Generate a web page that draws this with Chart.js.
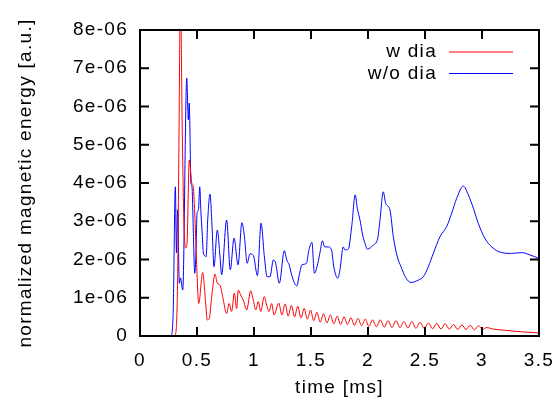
<!DOCTYPE html>
<html lang="en">
<head>
<meta charset="utf-8">
<title>normalized magnetic energy</title>
<script src="https://cdn.jsdelivr.net/npm/chart.js@4/dist/chart.umd.min.js"></script>
<style>
    html, body { margin: 0; padding: 0; background: #fff; }
    #contenedor { width: 560px; height: 401px; }
</style>
</head>
<body>
<div id="contenedor"><canvas id="grafico" width="560" height="401"></canvas></div>
<script>
// valores en unidades de 1e-06
const tiempoConDia = [
    0, 0.3, 0.315, 0.33, 0.34, 0.355, 0.37, 0.385, 0.4, 0.412,
    0.432, 0.454, 0.467, 0.482, 0.497, 0.515, 0.55, 0.575, 0.59, 0.607,
    0.629, 0.658, 0.678, 0.702, 0.725, 0.76, 0.782, 0.804, 0.827, 0.848,
    0.862, 0.883, 0.906, 0.936, 0.971, 0.994, 1.015, 1.038, 1.059, 1.09,
    1.111, 1.132, 1.155, 1.175,
    1.217, 1.245, 1.273, 1.3, 1.328, 1.356, 1.384, 1.412, 1.44, 1.468,
    1.496, 1.524, 1.552, 1.58, 1.61, 1.64, 1.67, 1.7, 1.73, 1.76,
    1.79, 1.82, 1.85, 1.88, 1.912, 1.944, 1.976, 2.008, 2.04, 2.074,
    2.108, 2.142, 2.176, 2.21, 2.245, 2.28, 2.315, 2.35, 2.385, 2.42,
    2.457, 2.494, 2.53, 2.567, 2.604, 2.64, 2.677, 2.714, 2.75, 2.787,
    2.824, 2.86, 2.897, 2.934, 2.97, 3.005, 3.04, 3.1, 3.2, 3.3,
    3.4, 3.5
];
const energiaConDia = [
    0, 0, 0.1, 1.5, 4.5, 9, 5.5, 3.0, 2.3, 2.4,
    4.6, 4.0, 3.9, 3.08, 1.86, 0.85, 1.66, 0.9, 0.42, 0.45,
    1.03, 1.62, 1.38, 1.33, 1.03, 0.59, 0.85, 0.64, 1.12, 0.72,
    1.2, 1.07, 0.94, 0.68, 1.18, 0.94, 0.68, 0.9, 0.64, 1.03,
    0.81, 0.64, 0.85, 0.55,
    0.86, 0.55, 0.84, 0.52, 0.8, 0.5, 0.78, 0.47, 0.72, 0.44,
    0.68, 0.4, 0.62, 0.36, 0.58, 0.34, 0.55, 0.32, 0.52, 0.3,
    0.5, 0.3, 0.48, 0.28, 0.46, 0.27, 0.44, 0.25, 0.42, 0.24,
    0.42, 0.23, 0.4, 0.22, 0.4, 0.22, 0.38, 0.21, 0.38, 0.2,
    0.36, 0.2, 0.34, 0.19, 0.33, 0.18, 0.32, 0.18, 0.3, 0.17,
    0.29, 0.17, 0.28, 0.16, 0.27, 0.17, 0.22, 0.18, 0.15, 0.12,
    0.1, 0.08
];

const tiempoSinDia = [
    0, 0.27, 0.29, 0.31, 0.32, 0.33, 0.345, 0.355, 0.375, 0.41,
    0.424, 0.432, 0.447, 0.456, 0.469, 0.48, 0.491, 0.5, 0.513, 0.524,
    0.535, 0.544, 0.556, 0.57, 0.58, 0.594, 0.614, 0.632, 0.649, 0.678,
    0.702, 0.716, 0.76, 0.792, 0.825, 0.86, 0.894, 0.916, 0.94, 0.965,
    0.995, 1.03, 1.062, 1.09, 1.115, 1.14, 1.17, 1.19, 1.222, 1.266,
    1.287, 1.31, 1.33, 1.375, 1.4, 1.42, 1.46, 1.482, 1.508, 1.53,
    1.56, 1.58, 1.6, 1.62, 1.65, 1.68, 1.7, 1.735, 1.754, 1.783,
    1.798, 1.827, 1.857, 1.888, 1.906, 1.93, 1.953, 1.974, 1.994, 2.047,
    2.085, 2.105, 2.134, 2.155, 2.193, 2.222, 2.257, 2.29, 2.33, 2.377,
    2.44, 2.485, 2.529, 2.573, 2.632, 2.69, 2.734, 2.778, 2.836, 2.88,
    2.924, 2.968, 3.026, 3.085, 3.173, 3.26, 3.348, 3.42, 3.5
];
const energiaSinDia = [
    0, 0, 0.5, 3.9, 2.17, 3.3, 1.38, 1.52, 1.2, 6.74,
    5.65, 6.09, 4.0, 3.9, 2.6, 1.64, 2.17, 3.2, 3.3, 3.9,
    3.2, 2.77, 2.17, 2.1, 2.07, 3.03, 3.71, 2.86, 1.81, 2.77,
    2.07, 1.6, 3.03, 1.73, 2.56, 1.86, 2.96, 2.6, 1.9, 2.15,
    2.1, 1.58, 2.95, 2.1, 1.55, 1.55, 1.99, 1.9, 1.38, 2.23,
    1.99, 1.85, 1.6, 1.31, 1.64, 1.86, 1.9, 2.25, 2.45, 1.64,
    1.9, 2.2, 2.49, 2.33, 2.33, 2.25, 1.81, 1.51, 1.73, 2.33,
    2.25, 2.27, 2.86, 3.69, 3.34, 3.03, 2.64, 2.42, 2.27, 2.38,
    2.55, 3.03, 3.77, 3.47, 3.29, 2.6, 2.07, 1.81, 1.53, 1.4,
    1.46, 1.55, 1.81, 2.16, 2.6, 2.86, 3.21, 3.6, 3.92, 3.69,
    3.34, 2.94, 2.55, 2.33, 2.18, 2.16, 2.18, 2.12, 2.03
];

const ticksX = [0, 0.5, 1, 1.5, 2, 2.5, 3, 3.5];
const ticksY = [0, 1, 2, 3, 4, 5, 6, 7, 8];

const fuente = '"Liberation Sans", Arial, sans-serif';
const espaciadoLetras = '1.3px';

Chart.defaults.font.family = fuente;
Chart.defaults.font.size = 19;
Chart.defaults.color = '#000';

function puntos(tiempos, valores) {
    return tiempos.map((t, i) => ({ x: t, y: valores[i] }));
}

// el texto de gnuplot sale algo mas ancho, se imita con letterSpacing
const espaciado = {
    id: 'espaciado',
    beforeUpdate(chart) { chart.ctx.letterSpacing = espaciadoLetras; },
    beforeDraw(chart) { chart.ctx.letterSpacing = espaciadoLetras; }
};

const marco = {
    id: 'marco',
    afterDatasetsDraw(chart) {
        const { ctx, chartArea: { left, right, top, bottom }, scales: { x, y } } = chart;
        const largo = 9;
        ctx.save();
        ctx.strokeStyle = '#000';
        ctx.lineWidth = 2;
        ctx.beginPath();
        ticksX.forEach(v => {
            const px = x.getPixelForValue(v);
            ctx.moveTo(px, bottom);
            ctx.lineTo(px, bottom - largo);
            ctx.moveTo(px, top);
            ctx.lineTo(px, top + largo);
        });
        ticksY.forEach(v => {
            const py = y.getPixelForValue(v);
            ctx.moveTo(left, py);
            ctx.lineTo(left + largo, py);
            ctx.moveTo(right, py);
            ctx.lineTo(right - largo, py);
        });
        ctx.stroke();
        ctx.strokeRect(left, top, right - left, bottom - top);
        ctx.restore();
    }
};

const leyenda = {
    id: 'leyenda',
    afterDraw(chart) {
        const { ctx, chartArea: { right, top } } = chart;
        ctx.save();
        ctx.font = `19px ${fuente}`;
        ctx.letterSpacing = espaciadoLetras;
        ctx.textAlign = 'right';
        ctx.textBaseline = 'middle';
        ctx.fillStyle = '#000';
        chart.data.datasets.forEach((ds, i) => {
            const yy = top + 22 + i * 21.5;
            ctx.fillText(ds.label, right - 102, yy);
            ctx.strokeStyle = ds.borderColor;
            ctx.lineWidth = 1;
            ctx.beginPath();
            ctx.moveTo(right - 90, yy);
            ctx.lineTo(right - 26, yy);
            ctx.stroke();
        });
        ctx.restore();
    }
};

const ctx = document.getElementById('grafico').getContext('2d');

new Chart(ctx, {
    type: 'line',
    data: {
        datasets: [
            {
                label: 'w dia',
                data: puntos(tiempoConDia, energiaConDia),
                borderColor: '#ff0000',
                borderWidth: 1,
                pointRadius: 0,
                fill: false,
                cubicInterpolationMode: 'monotone'
            },
            {
                label: 'w/o dia',
                data: puntos(tiempoSinDia, energiaSinDia),
                borderColor: '#0000ff',
                borderWidth: 1,
                pointRadius: 0,
                fill: false,
                cubicInterpolationMode: 'monotone'
            }
        ]
    },
    options: {
        responsive: false,
        animation: false,
        layout: { padding: { top: 30, right: 21, left: 0, bottom: 0 } },
        plugins: {
            legend: { display: false },
            tooltip: { enabled: false }
        },
        scales: {
            x: {
                type: 'linear',
                min: 0,
                max: 3.5,
                grid: { display: false, drawTicks: false },
                border: { display: false },
                ticks: { stepSize: 0.5, padding: 13, callback: v => `${v}` },
                title: { display: true, text: 'time [ms]', padding: { top: 0, bottom: 2 } },
                afterFit: s => {
                    s.height = 65;
                    s.paddingLeft = 0;
                    s.paddingRight = 0;
                }
            },
            y: {
                type: 'linear',
                min: 0,
                max: 8,
                grid: { display: false, drawTicks: false },
                border: { display: false },
                ticks: {
                    stepSize: 1,
                    padding: 12,
                    callback: v => v === 0 ? '0' : `${v}e-06`
                },
                title: { display: true, text: 'normalized magnetic energy [a.u.]', padding: { top: 14, bottom: 0 } },
                afterFit: s => {
                    s.width = 140;
                    s.paddingTop = 0;
                    s.paddingBottom = 0;
                }
            }
        }
    },
    plugins: [espaciado, marco, leyenda]
});
</script>
</body>
</html>
